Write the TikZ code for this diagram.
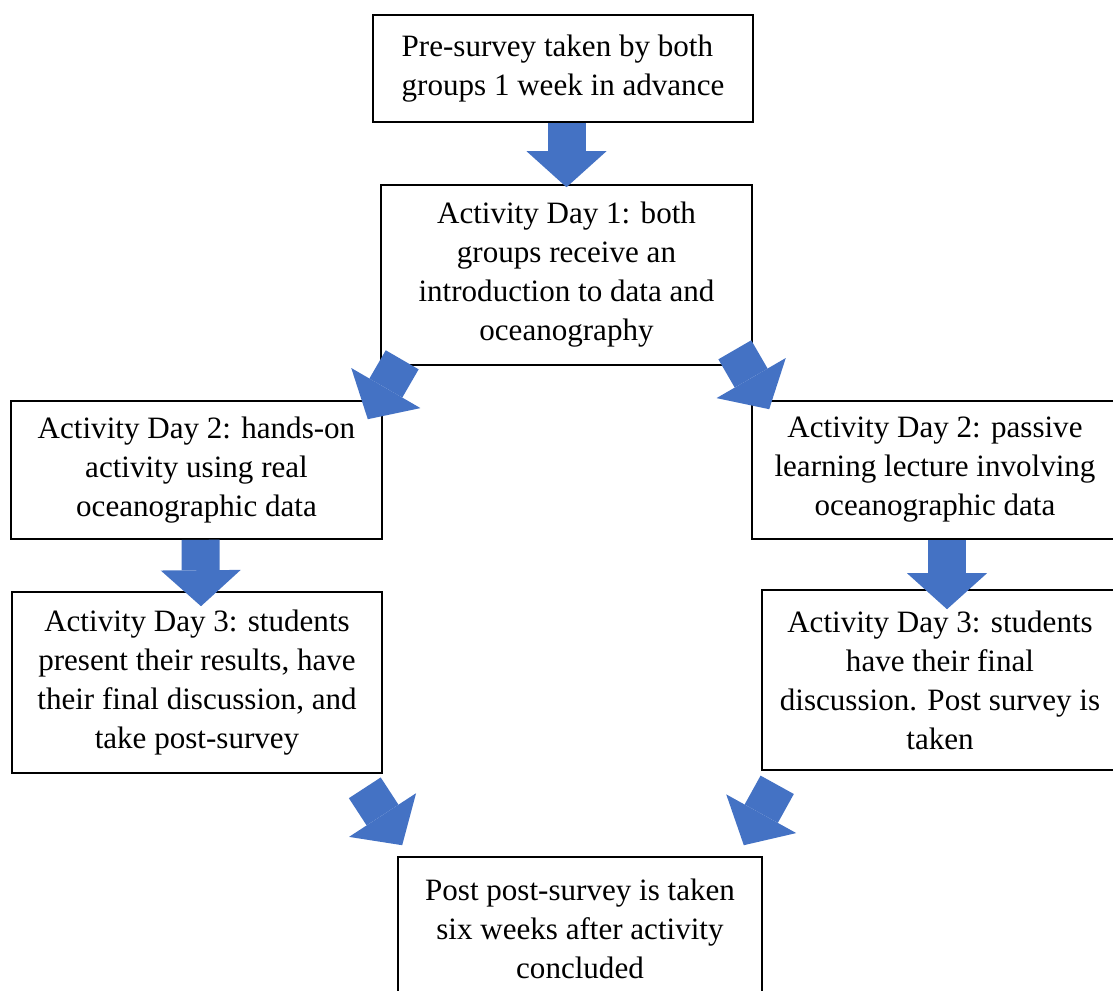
\documentclass[tikz,border=0pt]{standalone}
\usepackage{fontspec}
\setmainfont{Liberation Serif}
\usetikzlibrary{arrows.meta, positioning}

\definecolor{flowblue}{RGB}{68,114,196}

\tikzset{
  stepbox/.style={draw, line width=1.2pt, fill=white, align=center, inner sep=0pt,
    font=\fontsize{23.3}{29.25}\selectfont},
  flowarrow/.style={flowblue, line width=28.5pt,
    -{Triangle[length=27pt, width=60pt, line width=0pt]}}
}

\begin{document}
\begin{tikzpicture}[x=0.75pt, y=-0.75pt]
  \useasboundingbox (0,0) rectangle (1113,990);
  \clip (0,0) rectangle (1113,990);

  % the boxes
  \node[stepbox, align=left, minimum width=285pt, minimum height=80.25pt] (presurvey) at (563,68.5)
    {Pre-survey taken by both\\groups 1 week in advance};
  \node[stepbox, minimum width=278.25pt, minimum height=135pt] (dayone) at (566.5,275)
    {Activity Day 1: both\\groups receive an\\introduction to data and\\oceanography};
  \node[stepbox, minimum width=278.25pt, minimum height=103.5pt] (handson) at (196.5,470)
    {Activity Day 2: hands-on\\activity using real\\oceanographic data};
  \node[stepbox, minimum width=274.5pt, minimum height=103.5pt] (passive) at (935,470)
    {Activity Day 2: passive\\learning lecture involving\\oceanographic data};
  \node[stepbox, minimum width=277.5pt, minimum height=135.75pt] (presentday) at (197,682.5)
    {Activity Day 3: students\\present their results, have\\their final discussion, and\\take post-survey};
  \node[stepbox, minimum width=267pt, minimum height=135pt] (discussday) at (940,680)
    {Activity Day 3: students\\have their final\\discussion. Post survey is\\taken};
  \node[stepbox, minimum width=273pt, minimum height=107.25pt] (postpost) at (580,928.5)
    {Post post-survey is taken\\six weeks after activity\\concluded};

  % the block arrows
  \draw[flowarrow] (presurvey.south -| dayone.north) -- ([shift={(0,3)}]dayone.north);
  \draw[flowarrow] ([shift={(22,-6)}]dayone.south west) -- ([shift={(-15,19)}]handson.north east);
  \draw[flowarrow] ([shift={(-18,-16)}]dayone.south east) -- ([shift={(18,9)}]passive.north west);
  \draw[flowarrow] ([shift={(4,0)}]handson.south) -- ([shift={(4,15)}]presentday.north);
  \draw[flowarrow] ([shift={(12,0)}]passive.south) -- ([shift={(7,20)}]discussday.north);
  \draw[flowarrow] ([shift={(-18,14)}]presentday.south east) -- ([shift={(5,-11)}]postpost.north west);
  \draw[flowarrow] ([shift={(16,14)}]discussday.south west) -- ([shift={(-19,-11)}]postpost.north east);
\end{tikzpicture}
\end{document}
